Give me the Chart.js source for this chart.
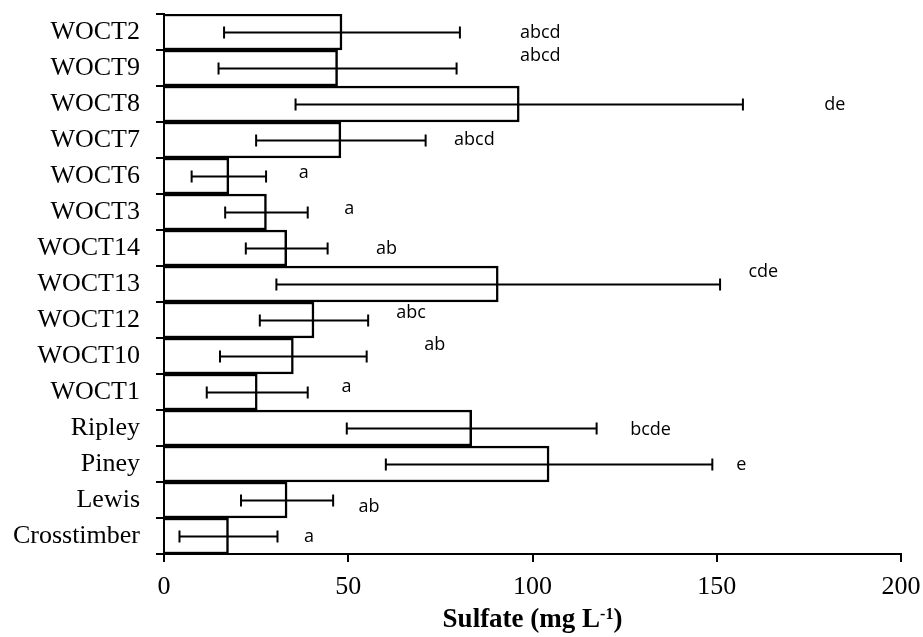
<!DOCTYPE html>
<html>
<head>
<meta charset="utf-8">
<script src="https://cdn.jsdelivr.net/npm/chart.js@4"></script>
<style>
  html, body { margin: 0; padding: 0; background: #fff; }
  canvas { display: block; }
</style>
</head>
<body>
<canvas id="sulfateChart" width="923" height="637"></canvas>
<script>
// sites from top to bottom
const sites = ['WOCT2', 'WOCT9', 'WOCT8', 'WOCT7', 'WOCT6', 'WOCT3', 'WOCT14', 'WOCT13',
               'WOCT12', 'WOCT10', 'WOCT1', 'Ripley', 'Piney', 'Lewis', 'Crosstimber'];

// mean sulfate (mg/L) and standard deviation
const sulfateMean = [48.3, 47.1, 96.4, 48.0, 17.6, 27.8, 33.3, 90.7, 40.7, 35.1, 25.3, 83.5, 104.5, 33.4, 17.5];
const sulfateSD   = [32.0, 32.3, 60.7, 23.0, 10.1, 11.2, 11.1, 60.2, 14.7, 19.9, 13.7, 33.9, 44.3, 12.5, 13.3];

// Tukey grouping letters
const groupLetters = ['abcd', 'abcd', 'de', 'abcd', 'a', 'a', 'ab', 'cde', 'abc', 'ab', 'a', 'bcde', 'e', 'ab', 'a'];

// where each letter starts (mg/L) and its vertical nudge (px)
const letterX  = [96.6, 96.6, 179.2, 78.7, 36.6, 48.9, 57.5, 158.6, 63.0, 70.6, 48.2, 126.5, 155.3, 52.8, 38.0];
const letterDy = [1, -12, 1, 0, -3, -3, 1, -12, -7, -11, -5, 2, 1, 7, 1];

const xTicks = [0, 50, 100, 150, 200];

const serif = '"Liberation Serif", "Times New Roman", serif';

Chart.defaults.color = '#000';

// error bars, letters and the axis title with its superscript
const overlay = {
    id: 'overlay',
    afterDraw(chart) {
        const { ctx, scales: { x, y }, chartArea } = chart;
        ctx.save();

        ctx.strokeStyle = '#000';
        ctx.lineWidth = 2;
        sulfateMean.forEach(function (m, i) {
            const yc = Math.round(y.getPixelForValue(i)) + 0.5;
            const x0 = x.getPixelForValue(m - sulfateSD[i]);
            const x1 = x.getPixelForValue(m + sulfateSD[i]);
            ctx.beginPath();
            ctx.moveTo(x0, yc);
            ctx.lineTo(x1, yc);
            ctx.moveTo(x0, yc - 6);
            ctx.lineTo(x0, yc + 6);
            ctx.moveTo(x1, yc - 6);
            ctx.lineTo(x1, yc + 6);
            ctx.stroke();
        });

        ctx.fillStyle = '#000';
        ctx.font = '18px "Open Sans", "Noto Sans", sans-serif';
        ctx.textAlign = 'left';
        ctx.textBaseline = 'middle';
        groupLetters.forEach(function (txt, i) {
            ctx.fillText(txt, x.getPixelForValue(letterX[i]), y.getPixelForValue(i) + letterDy[i]);
        });

        // "Sulfate (mg L-1)" with raised -1
        const main = 'Sulfate (mg L';
        const sup = '-1';
        const tail = ')';
        const bigFont = 'bold 27px ' + serif;
        const supFont = 'bold 16px ' + serif;
        ctx.font = bigFont;
        const wMain = ctx.measureText(main).width;
        const wTail = ctx.measureText(tail).width;
        ctx.font = supFont;
        const wSup = ctx.measureText(sup).width;
        const total = wMain + wSup + wTail;
        let tx = (chartArea.left + chartArea.right) / 2 - total / 2;
        const base = 627;
        ctx.textBaseline = 'alphabetic';
        ctx.font = bigFont;
        ctx.fillText(main, tx, base);
        tx += wMain;
        ctx.font = supFont;
        ctx.fillText(sup, tx, base - 8);
        tx += wSup;
        ctx.font = bigFont;
        ctx.fillText(tail, tx, base);

        ctx.restore();
    }
};

new Chart(document.getElementById('sulfateChart').getContext('2d'), {
    type: 'bar',
    data: {
        labels: sites,
        datasets: [{
            data: sulfateMean,
            backgroundColor: '#fff',
            borderColor: '#000',
            borderWidth: 2.5,
            categoryPercentage: 1,
            barPercentage: 1
        }]
    },
    options: {
        indexAxis: 'y',
        responsive: false,
        animation: false,
        layout: { padding: { top: 14, right: 22, left: 0, bottom: 0 } },
        plugins: {
            legend: { display: false },
            tooltip: { enabled: false }
        },
        scales: {
            x: {
                min: 0,
                max: 200,
                afterBuildTicks: function (scale) {
                    scale.ticks = xTicks.map(function (v) { return { value: v }; });
                },
                afterFit: function (scale) {
                    scale.height = 83;
                    scale.paddingLeft = 0;
                    scale.paddingRight = 0;
                },
                border: { display: true, color: '#000', width: 2 },
                grid: { drawOnChartArea: false, drawTicks: true, tickLength: 8, color: '#000', lineWidth: 2 },
                ticks: { font: { family: serif, size: 26 }, padding: 10, color: '#000', maxRotation: 0 }
            },
            y: {
                afterFit: function (scale) {
                    scale.width = 164;
                    scale.paddingTop = 0;
                    scale.paddingBottom = 0;
                },
                border: { display: true, color: '#000', width: 2 },
                grid: { offset: true, drawOnChartArea: false, drawTicks: true, tickLength: 8, color: '#000', lineWidth: 2 },
                ticks: { font: { family: serif, size: 26 }, padding: 16, color: '#000', autoSkip: false }
            }
        }
    },
    plugins: [overlay]
});
</script>
</body>
</html>
